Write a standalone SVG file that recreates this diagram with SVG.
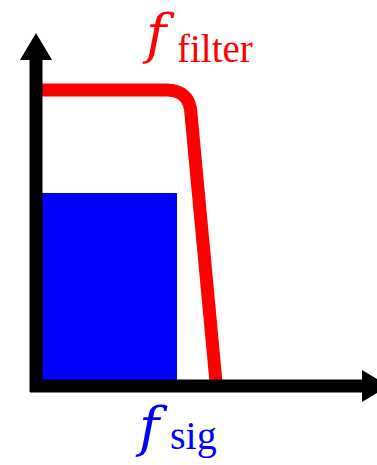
<svg xmlns="http://www.w3.org/2000/svg" width="377" height="465" viewBox="0 0 377 465">
<style>
.lbl{font-family:"Liberation Serif","Times New Roman",serif}
.it{font-family:"DejaVu Serif",serif;font-style:italic}
.axis{stroke:#000;stroke-width:13;fill:none}
</style>
<rect width="377" height="465" fill="#fff"/>
<g id="signal">
<rect x="36" y="193" width="141" height="193" fill="#0000ff"/>
</g>
<g id="filter">
<path d="M36,90 H166 Q190,90 191,114 L216,382" fill="none" stroke="#ff0000" stroke-width="13"/>
</g>
<g id="connectors">
<line class="axis" x1="36" y1="392" x2="36" y2="58"/>
<polygon points="36,33 52,60 20,60" fill="#000"/>
<line class="axis" x1="30" y1="386" x2="364" y2="386"/>
<polygon points="389,386 362,370 362,402" fill="#000"/>
</g>
<g id="label-filter">
<text class="lbl" fill="#ff0000"><tspan class="it" x="146" y="53" font-size="55">f</tspan><tspan x="177" y="62" font-size="39">filter</tspan></text>
</g>
<g id="label-sig">
<text class="lbl" fill="#0000ff"><tspan class="it" x="139" y="446" font-size="55">f</tspan><tspan x="170" y="449" font-size="40">sig</tspan></text>
</g>
</svg>
